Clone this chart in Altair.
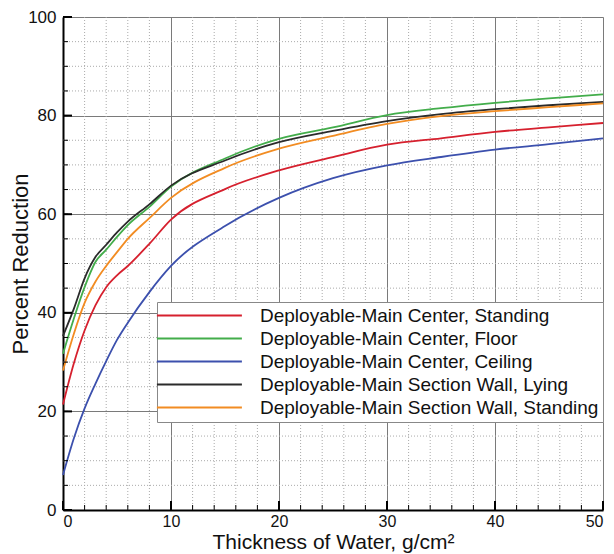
import altair as alt
import pandas as pd

# ---- data ----
thickness = [0, 1, 2, 3, 4, 5, 6, 8, 10, 15, 20, 25, 30, 35, 40, 45, 50]
center_standing = [21.4, 29.7, 36.4, 41.5, 45.2, 47.6, 49.5, 54.0, 58.9, 65.1, 68.9, 71.6, 74.1, 75.4, 76.7, 77.6, 78.5]
center_floor = [31.7, 38.8, 45.2, 50.3, 52.8, 55.4, 57.8, 61.5, 65.6, 71.3, 75.3, 77.6, 80.1, 81.5, 82.6, 83.5, 84.3]
center_ceiling = [7.1, 14.5, 20.6, 25.6, 30.2, 34.5, 38.0, 44.2, 49.5, 57.6, 63.3, 67.3, 69.9, 71.6, 73.1, 74.2, 75.4]
wall_lying = [35.3, 40.8, 47.0, 51.3, 53.8, 56.3, 58.5, 62.0, 65.8, 70.9, 74.6, 76.9, 78.9, 80.3, 81.3, 82.1, 82.8]
wall_standing = [28.3, 35.7, 42.0, 46.3, 49.5, 52.3, 55.0, 59.2, 63.3, 69.4, 73.3, 75.9, 78.3, 79.9, 80.9, 81.7, 82.5]

series_names = [
    "Deployable-Main Center, Standing",
    "Deployable-Main Center, Floor",
    "Deployable-Main Center, Ceiling",
    "Deployable-Main Section Wall, Lying",
    "Deployable-Main Section Wall, Standing",
]
series_colors = ["#d6202e", "#43ad4b", "#3c50ad", "#2b2b2b", "#f28c22"]
series_values = [center_standing, center_floor, center_ceiling, wall_lying, wall_standing]

x_major = [0, 10, 20, 30, 40, 50]
y_major = [0, 20, 40, 60, 80, 100]
x_minor = list(range(0, 51, 2))
y_minor = list(range(0, 101, 5))

W, H = 540, 493
FONT = "Liberation Sans"

rows = []
for order, (name, vals) in enumerate(zip(series_names, series_values)):
    for xv, yv in zip(thickness, vals):
        rows.append({"x": xv, "y": yv, "series": name, "o": order})
df = pd.DataFrame(rows)

xscale = alt.Scale(domain=[0, 50], nice=False)
yscale = alt.Scale(domain=[0, 100], nice=False)

XAXIS = alt.Axis(values=x_major, title="Thickness of Water, g/cm²", grid=True,
                 gridColor="#7a7a7a", gridWidth=1, ticks=False,
                 domainColor="#000", domainWidth=2,
                 labelFont=FONT, labelFontSize=16, labelColor="#111", labelPadding=3,
                 labelFlush=True, labelFlushOffset=0,
                 titleFont=FONT, titleFontSize=21, titleFontWeight="normal", titleColor="#111",
                 titleY=38, titleBaseline="alphabetic")
YAXIS = alt.Axis(values=y_major, title="Percent Reduction", grid=True,
                 gridColor="#7a7a7a", gridWidth=1, ticks=False,
                 domainColor="#000", domainWidth=2,
                 labelFont=FONT, labelFontSize=17, labelColor="#111", labelPadding=7,
                 titleFont=FONT, titleFontSize=22, titleFontWeight="normal", titleColor="#111",
                 titleX=-43, titleY=H / 2, titleBaseline="middle", titleAngle=270)

minor_x_df = pd.DataFrame({"v": [v for v in x_minor if v not in x_major]})
minor_y_df = pd.DataFrame({"v": [v for v in y_minor if v not in y_major]})
tick_x_minor = pd.DataFrame({"v": x_minor})
tick_y_minor = pd.DataFrame({"v": y_minor})
tick_x_major = pd.DataFrame({"v": x_major})
tick_y_major = pd.DataFrame({"v": y_major})

grid_x = alt.Chart(minor_x_df).mark_rule(color="#aaaaaa", strokeDash=[1, 2], strokeWidth=1).encode(
    x=alt.X("v:Q", scale=xscale, axis=XAXIS), y=alt.value(0), y2=alt.value(H))
grid_y = alt.Chart(minor_y_df).mark_rule(color="#aaaaaa", strokeDash=[1, 2], strokeWidth=1).encode(
    y=alt.Y("v:Q", scale=yscale, axis=YAXIS), x=alt.value(0), x2=alt.value(W))

tx_min = alt.Chart(tick_x_minor).mark_rule(color="#000", strokeWidth=1).encode(
    x=alt.X("v:Q", scale=xscale, axis=XAXIS), y=alt.value(H), y2=alt.value(H - 5))
tx_maj = alt.Chart(tick_x_major).mark_rule(color="#000", strokeWidth=2).encode(
    x=alt.X("v:Q", scale=xscale, axis=XAXIS), y=alt.value(H), y2=alt.value(H - 9))
ty_min = alt.Chart(tick_y_minor).mark_rule(color="#000", strokeWidth=1).encode(
    y=alt.Y("v:Q", scale=yscale, axis=YAXIS), x=alt.value(0), x2=alt.value(5))
ty_maj = alt.Chart(tick_y_major).mark_rule(color="#000", strokeWidth=2).encode(
    y=alt.Y("v:Q", scale=yscale, axis=YAXIS), x=alt.value(0), x2=alt.value(9))

lines = alt.Chart(df).mark_line(strokeWidth=1.8, interpolate="monotone").encode(
    x=alt.X("x:Q", scale=xscale, axis=XAXIS),
    y=alt.Y("y:Q", scale=yscale, axis=YAXIS),
    color=alt.Color("series:N", scale=alt.Scale(domain=series_names, range=series_colors),
                    legend=alt.Legend(orient="none", legendX=94, legendY=285, title=None,
                                      symbolType="M-1.6,0H8.4", symbolSize=289, symbolStrokeWidth=2,
                                      labelOffset=80, padding=4, rowPadding=3,
                                      labelFont=FONT, labelFontSize=19, labelColor="#111", labelLimit=500,
                                      strokeColor="#888", fillColor="white")),
    order=alt.Order("o:Q"),
    detail="series:N",
)

chart = alt.layer(grid_x, grid_y, lines, tx_min, tx_maj, ty_min, ty_maj).properties(
    width=W, height=H,
    autosize=alt.AutoSizeParams(type="none"),
    padding={"left": 55, "top": 9, "right": 3, "bottom": 44},
).configure_view(stroke="#888", strokeWidth=1.5).configure(background="white")

chart.save("out.html", embed_options={"renderer": "svg", "actions": False})
